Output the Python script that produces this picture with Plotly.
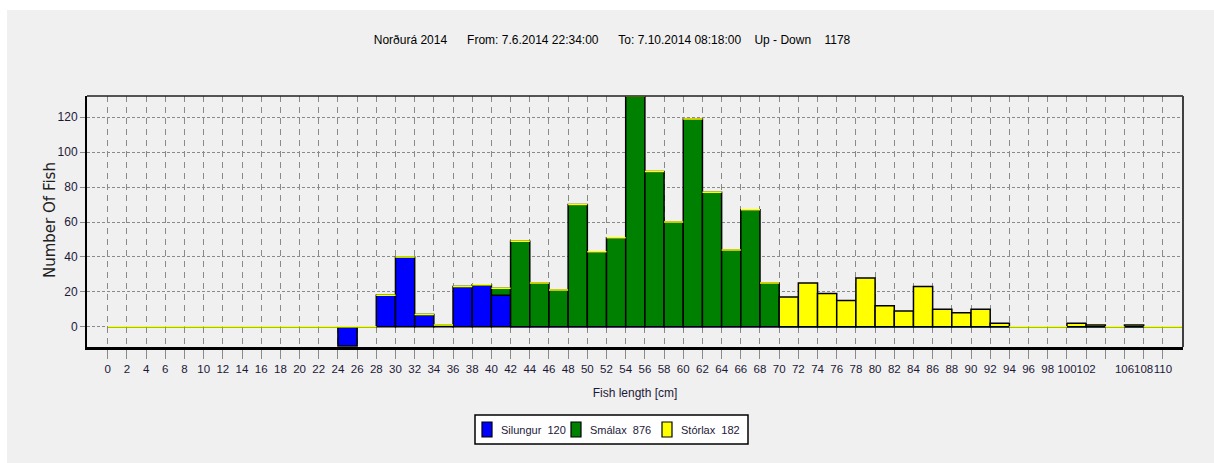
import plotly.graph_objects as go

# lengdarflokkar (vinstri brún hvers 2 cm bils)
lengths = list(range(0, 112, 2))

# fjöldi fiska í hverju bili, 0..110 cm
silungur = [0, 0, 0, 0, 0, 0, 0, 0, 0, 0, 0, 0, -11, 0, 18, 40, 7, 1, 23, 24,
            18, 0, 0, 0, 0, 0, 0, 0, 0, 0, 0, 0, 0, 0, 0, 0, 0, 0, 0, 0,
            0, 0, 0, 0, 0, 0, 0, 0, 0, 0, 0, 0, 0, 0, 0, 0]
smalax = [0, 0, 0, 0, 0, 0, 0, 0, 0, 0, 0, 0, 0, 0, 0, 0, 0, 0, 0, 0,
          4, 49, 25, 21, 70, 43, 51, 132, 89, 60, 119, 77, 44, 67, 25, 0, 0, 0, 0, 0,
          0, 0, 0, 0, 0, 0, 0, 0, 0, 0, 0, 0, 0, 0, 0, 0]
storlax = [0, 0, 0, 0, 0, 0, 0, 0, 0, 0, 0, 0, 0, 0, 0, 0, 0, 0, 0, 0,
           0, 0, 0, 0, 0, 0, 0, 0, 0, 0, 0, 0, 0, 0, 0, 17, 25, 19, 15, 28,
           12, 9, 23, 10, 8, 10, 2, 0, 0, 0, 2, 1, 0, 1, 0, 0]

series_names = ["Silungur", "Smálax", "Stórlax"]
series_vals = [silungur, smalax, storlax]
series_colors = ["#0000ff", "#008000", "#ffff00"]

tick_vals = list(range(0, 112, 2))
tick_text = ["" if v == 104 else str(v) for v in tick_vals]

title_text = ("Norðurá 2014      From: 7.6.2014 22:34:00      "
              "To: 7.10.2014 08:18:00    Up - Down    1178")

FONT = "Liberation Sans, Arial, sans-serif"
LABEL_COLOR = "#1c1838"
BG = "#f0f0f0"

W, H = 1214, 463
L, R, T, B = 87, 31, 96, 116
pw, ph = W - L - R, H - T - B


def px(x):
    return (x - L) / pw


def py(y):
    return (H - B - y) / ph


fig = go.Figure()

for name, vals, color in zip(series_names, series_vals, series_colors):
    # súlur með gildi
    fig.add_trace(go.Bar(
        x=lengths, y=[v if v != 0 else None for v in vals],
        width=2, offset=0, name=name, showlegend=False,
        marker=dict(color=color, line=dict(color="black", width=1.5)),
    ))
    # núllgildi teiknuð sem lína í lit raðarinnar
    fig.add_trace(go.Bar(
        x=lengths, y=[0 if v == 0 else None for v in vals],
        width=2, offset=0, showlegend=False, hoverinfo="skip",
        marker=dict(color=color, line=dict(color=color, width=1.5)),
    ))

shapes = [
    # hvít rönd efst og til vinstri
    dict(type="rect", xref="paper", yref="paper", layer="below",
         x0=px(0), x1=px(W), y0=py(10), y1=py(0),
         fillcolor="white", line=dict(width=0)),
    dict(type="rect", xref="paper", yref="paper", layer="below",
         x0=px(0), x1=px(7), y0=py(H), y1=py(0),
         fillcolor="white", line=dict(width=0)),
    # efri og hægri rammi
    dict(type="line", xref="paper", yref="paper", x0=0, x1=1, y0=1, y1=1,
         line=dict(color="#202020", width=1.5)),
    dict(type="line", xref="paper", yref="paper", x0=1, x1=1, y0=0, y1=1,
         line=dict(color="#404040", width=2)),
    # skýringarkassi
    dict(type="rect", xref="paper", yref="paper",
         x0=px(475), x1=px(748), y0=py(444), y1=py(415),
         fillcolor="white", line=dict(color="black", width=1.5)),
]

annotations = [
    dict(text="Number Of Fish", xref="paper", yref="paper",
         x=px(50), y=py(220), textangle=-90, showarrow=False,
         xanchor="center", yanchor="middle",
         font=dict(family="DejaVu Sans, sans-serif", size=15, color="#202020")),
]

# skýringar: litareitur + texti
legend_x = [482, 571, 662]
for lx, name, vals, color in zip(legend_x, series_names, series_vals, series_colors):
    shapes.append(dict(type="rect", xref="paper", yref="paper",
                       x0=px(lx), x1=px(lx + 10), y0=py(437), y1=py(422),
                       fillcolor=color, line=dict(color="black", width=1.2)))
    annotations.append(dict(text=f"{name}  {sum(vals)}", xref="paper", yref="paper",
                            x=px(lx + 17), y=py(430), xanchor="left", yanchor="middle",
                            showarrow=False,
                            font=dict(family=FONT, size=11, color=LABEL_COLOR)))

fig.update_layout(
    width=W, height=H,
    margin=dict(l=L, r=R, t=T, b=B),
    barmode="relative",
    paper_bgcolor=BG,
    plot_bgcolor=BG,
    title=dict(text=title_text, x=612 / W, xanchor="center",
               y=1 - 40 / H, yanchor="middle",
               font=dict(family=FONT, size=12, color="black")),
    showlegend=False,
    shapes=shapes,
    annotations=annotations,
)

fig.update_xaxes(
    range=[-2.16, 112.1],
    tickmode="array", tickvals=tick_vals, ticktext=tick_text, tickangle=0,
    ticks="outside", ticklen=9, tickcolor="#8a8a8a", tickwidth=1,
    tickfont=dict(family=FONT, size=11.5, color=LABEL_COLOR),
    showgrid=True, gridcolor="#8a8a8a", gridwidth=1, griddash="6px,5px",
    zeroline=False,
    showline=True, linecolor="black", linewidth=3,
    title=dict(text="Fish length [cm]", standoff=15,
               font=dict(family=FONT, size=12, color=LABEL_COLOR)),
    automargin=False,
)

fig.update_yaxes(
    range=[-11.6, 132.2],
    tickmode="array", tickvals=list(range(0, 140, 20)),
    ticks="outside", ticklen=5, tickcolor="#8a8a8a", tickwidth=1,
    tickfont=dict(family=FONT, size=12, color=LABEL_COLOR),
    showgrid=True, gridcolor="#8a8a8a", gridwidth=1, griddash="3px,2px",
    zeroline=False,
    showline=True, linecolor="black", linewidth=2,
    automargin=False,
)

# engin spássía á síðunni og grár bakgrunnur utan myndar
page_js = ("document.body.style.margin = '0';"
           f"document.body.style.background = '{BG}';"
           f"document.documentElement.style.background = '{BG}';")
fig.write_html("out.html", config={"displayModeBar": False}, post_script=page_js)
